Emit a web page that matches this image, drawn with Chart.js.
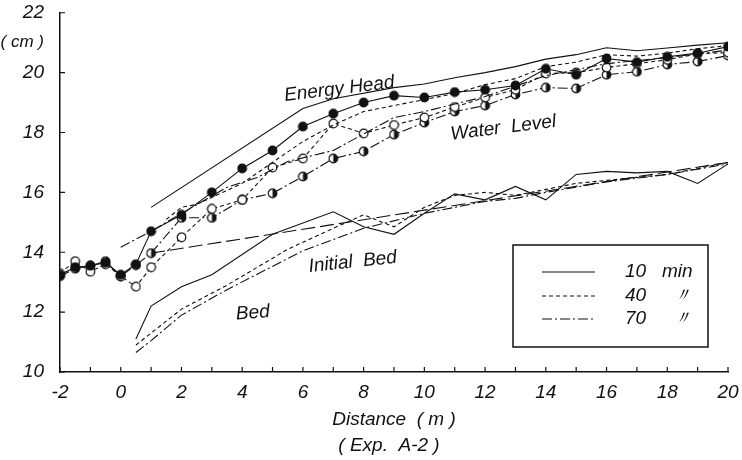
<!DOCTYPE html>
<html>
<head>
  <meta charset="UTF-8" />
  <title>Exp. A-2</title>
  <script src="https://cdn.jsdelivr.net/npm/chart.js"></script>
  <style>
    body { margin: 0; background: #fff; }
    #wrap { width: 742px; height: 460px; }
  </style>
</head>
<body>
<div id="wrap"><canvas id="c" width="742" height="460"></canvas></div>
<script>
  // water level stations (m)
  const wlX  = [-2, -1.5, -1, -0.5, 0, 0.5, 1, 2, 3, 4, 5, 6, 7, 8, 9, 10, 11, 12, 13, 14, 15, 16, 17, 18, 19, 20];
  const wl10 = [13.25, 13.5, 13.55, 13.65, 13.25, 13.6, 14.7, 15.25, 16.0, 16.8, 17.4, 18.2, 18.63, 19.0, 19.23, 19.17, 19.35, 19.43, 19.57, 20.13, 19.93, 20.47, 20.35, 20.53, 20.65, 20.87];
  const wl40 = [13.3, 13.7, 13.35, 13.6, 13.2, 12.85, 13.5, 14.5, 15.45, 15.75, 16.83, 17.13, 18.3, 17.97, 18.25, 18.5, 18.85, 19.17, 19.43, 19.97, 20.0, 20.17, 20.3, 20.43, 20.63, 20.67];
  const wl70 = [13.2, 13.45, 13.55, 13.7, 13.2, 13.57, 13.97, 15.15, 15.15, 15.75, 15.97, 16.53, 17.13, 17.37, 17.93, 18.33, 18.7, 18.9, 19.27, 19.5, 19.47, 19.93, 20.03, 20.27, 20.37, 20.57];

  // energy head
  const ehX10 = [1, 6, 7, 9, 10, 11, 12, 13, 14, 15, 16, 17, 18, 19, 20];
  const eh10  = [15.5, 18.8, 19.13, 19.5, 19.62, 19.83, 20.0, 20.2, 20.45, 20.6, 20.83, 20.73, 20.82, 20.92, 21.0];
  const ehX40 = [1.5, 2, 2.5, 4, 5, 6, 7, 8, 9, 10, 11, 12, 13, 14, 15, 16, 17, 18, 19, 20];
  const eh40  = [15.1, 15.5, 15.6, 16.3, 17.0, 17.7, 18.25, 18.7, 18.9, 19.1, 19.3, 19.6, 19.8, 20.2, 20.35, 20.6, 20.55, 20.65, 20.8, 20.9];
  const ehX70 = [0, 1, 2, 3.5, 4.5, 5.5, 7, 9, 10, 12, 14, 16, 18, 20];
  const eh70  = [14.17, 14.7, 15.3, 16.17, 16.5, 17.03, 17.4, 18.5, 18.7, 19.2, 19.9, 20.3, 20.5, 20.75];

  // bed
  const bedX10 = [0.5, 1, 2, 3, 5, 7, 8, 9, 10, 11, 12, 13, 14, 15, 16, 17, 18, 19, 20];
  const bed10  = [11.1, 12.2, 12.85, 13.25, 14.6, 15.35, 14.85, 14.6, 15.3, 15.95, 15.75, 16.2, 15.75, 16.6, 16.7, 16.65, 16.7, 16.3, 16.95];
  const bedX40 = [0.5, 1, 2, 3.5, 5.5, 7, 8, 9, 10, 11, 12, 13, 14, 15, 16, 17, 18, 19, 20];
  const bed40  = [10.9, 11.3, 12.1, 12.9, 14.1, 14.8, 15.25, 14.85, 15.5, 15.9, 16.0, 15.9, 16.1, 16.3, 16.4, 16.5, 16.6, 16.8, 17.0];
  const bedX70 = [0.5, 1, 2, 3.5, 6, 8, 10, 12, 13, 14, 16, 18, 20];
  const bed70  = [10.65, 11.05, 11.9, 12.75, 14.05, 14.8, 15.3, 15.7, 15.8, 16.0, 16.35, 16.6, 16.95];

  const initX   = [1, 20];
  const initBed = [13.97, 17.0];

  const xTicks = [-2, 0, 2, 4, 6, 8, 10, 12, 14, 16, 18, 20];
  const yTicks = [10, 12, 14, 16, 18, 20, 22];

  const INK = '#111';
  const FONT = 'italic 19px "Liberation Sans"';
  const DASH40 = [4, 3];
  const DASH70 = [10, 3, 2, 3];

  const pts = (xs, ys) => xs.map((x, i) => ({ x: x, y: ys[i] }));

  // marker images
  function marker(kind) {
    const c = document.createElement('canvas');
    c.width = 11; c.height = 11;
    const g = c.getContext('2d');
    g.lineWidth = 1.2;
    g.strokeStyle = INK;
    g.beginPath(); g.arc(5.5, 5.5, 4.3, 0, Math.PI * 2);
    g.fillStyle = kind === 'full' ? INK : '#fff';
    g.fill(); g.stroke();
    if (kind === 'half') {
      g.beginPath(); g.arc(5.5, 5.5, 4.3, -Math.PI / 2, Math.PI / 2);
      g.closePath(); g.fillStyle = INK; g.fill();
    }
    return c;
  }

  function line(label, data, dash, point) {
    return {
      label: label,
      data: data,
      showLine: true,
      borderColor: INK,
      borderWidth: 1.1,
      borderDash: dash,
      pointStyle: point || 'circle',
      pointRadius: point ? 5 : 0,
      pointHoverRadius: point ? 5 : 0,
      tension: 0
    };
  }

  // inward ticks, texts and legend box
  const decor = {
    id: 'decor',
    afterDraw(chart) {
      const g = chart.ctx, xs = chart.scales.x, ys = chart.scales.y;
      const a = chart.chartArea;
      g.save();
      g.strokeStyle = INK; g.lineWidth = 1.2;
      g.beginPath();
      for (let v = -2; v <= 20; v++) {
        const px = xs.getPixelForValue(v);
        g.moveTo(px, a.bottom); g.lineTo(px, a.bottom - 5);
      }
      yTicks.forEach(v => {
        const py = ys.getPixelForValue(v);
        g.moveTo(a.left, py); g.lineTo(a.left + 5, py);
      });
      g.stroke();

      g.fillStyle = INK;
      g.font = FONT;
      g.textAlign = 'center'; g.textBaseline = 'middle';
      const cx = (a.left + a.right) / 2;
      g.fillText('Distance  ( m )', cx, 420);
      g.fillText('( Exp.  A-2 )', cx - 5, 446);

      const notes = [
        ['Energy Head', 7.2, 19.45, -7],
        ['Water  Level', 12.6, 18.15, -7],
        ['Initial  Bed', 7.64, 13.67, -6],
        ['Bed', 4.35, 11.97, -4]
      ];
      notes.forEach(n => {
        g.save();
        g.translate(xs.getPixelForValue(n[1]), ys.getPixelForValue(n[2]));
        g.rotate(n[3] * Math.PI / 180);
        g.fillText(n[0], 0, 0);
        g.restore();
      });

      // legend
      g.lineWidth = 1.5;
      g.strokeRect(513, 245, 195, 102);
      const rows = [['10   min', [], 272], ['40     \u3003', DASH40, 296], ['70     \u3003', DASH70, 319]];
      g.textAlign = 'left';
      rows.forEach(r => {
        g.lineWidth = 1.1;
        g.setLineDash(r[1]);
        g.beginPath(); g.moveTo(542, r[2]); g.lineTo(595, r[2]); g.stroke();
        g.setLineDash([]);
        g.fillText(r[0], 625, r[2]);
      });
      g.restore();
    }
  };

  new Chart(document.getElementById('c'), {
    type: 'scatter',
    data: {
      datasets: [
        line('Energy Head 10', pts(ehX10, eh10), []),
        line('Energy Head 40', pts(ehX40, eh40), DASH40),
        line('Energy Head 70', pts(ehX70, eh70), DASH70),
        line('Water Level 10', pts(wlX, wl10), [], marker('full')),
        line('Water Level 40', pts(wlX, wl40), DASH40, marker('open')),
        line('Water Level 70', pts(wlX, wl70), DASH70, marker('half')),
        line('Bed 10', pts(bedX10, bed10), []),
        line('Bed 40', pts(bedX40, bed40), DASH40),
        line('Bed 70', pts(bedX70, bed70), DASH70),
        line('Initial Bed', pts(initX, initBed), [14, 5])
      ]
    },
    options: {
      responsive: false,
      animation: false,
      layout: { padding: { left: 0, right: 14, top: 12, bottom: 0 } },
      plugins: { legend: { display: false }, tooltip: { enabled: false } },
      scales: {
        x: {
          type: 'linear', min: -2, max: 20,
          afterFit: s => { s.height = 88; },
          grid: { display: false },
          border: { display: true, color: INK, width: 1.5 },
          ticks: {
            stepSize: 1, color: INK, padding: 1, maxRotation: 0, autoSkip: false,
            font: { family: 'Liberation Sans', style: 'italic', size: 19 },
            callback: v => xTicks.includes(v) ? String(v) : ''
          }
        },
        y: {
          type: 'linear', min: 10, max: 22,
          afterFit: s => { s.width = 60; },
          grid: { display: false },
          border: { display: true, color: INK, width: 1.5 },
          ticks: {
            stepSize: 1, color: INK, padding: 8, autoSkip: false,
            font: c => ({ family: 'Liberation Sans', style: 'italic', lineHeight: 0.5, size: c.tick && c.tick.value === 21 ? 17 : 19 }),
            callback: v => yTicks.includes(v) ? String(v) : (v === 21 ? '( cm )' : '')
          }
        }
      }
    },
    plugins: [decor]
  });
</script>
</body>
</html>
